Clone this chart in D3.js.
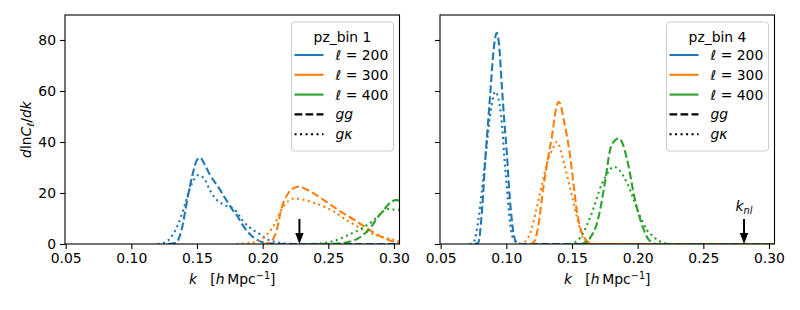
<!DOCTYPE html>
<html>
<head>
<meta charset="utf-8">
<script src="https://cdn.jsdelivr.net/npm/d3@7"></script>
<style>
  body { margin: 0; background: #fff; }
  svg { font-family: "DejaVu Sans", sans-serif; }
</style>
</head>
<body>
<svg id="chart" width="800" height="310"></svg>
<script>
// ticks, labels, categories
const kTicks = [0.05, 0.10, 0.15, 0.20, 0.25, 0.30];
const yTicks = [0, 20, 40, 60, 80];
const ells = [200, 300, 400];
const colors = ["#1f77b4", "#ff7f0e", "#2ca02c"];
const panelTitles = ["pz_bin 1", "pz_bin 4"];
const kNl = [0.228, 0.281];

// pz_bin 1 : [k, dlnC/dk]
const bin1_l200_gg = [[0.128,0],[0.134,0.5],[0.138,5],[0.143,18.5],[0.147,28],[0.150,33],[0.1525,33.8],[0.156,31],[0.160,27],[0.166,22.5],[0.172,17.5],[0.177,13.5],[0.181,10.7],[0.186,6.5],[0.190,4],[0.194,2.2],[0.200,0.7],[0.208,0.1],[0.215,0],[0.305,0]];
const bin1_l200_gk = [[0.120,0],[0.125,0.5],[0.130,2.5],[0.135,7],[0.140,14],[0.144,21],[0.148,25.5],[0.151,27],[0.155,26],[0.160,21],[0.163,18.5],[0.170,15.5],[0.179,13.3],[0.185,9],[0.190,6.5],[0.197,4.2],[0.203,2],[0.210,0.8],[0.218,0.2],[0.225,0],[0.305,0]];
const bin1_l300_gg = [[0.200,0],[0.204,0.3],[0.208,2],[0.211,6],[0.214,13.3],[0.2195,19.9],[0.224,22],[0.228,22.5],[0.233,21.5],[0.240,19.5],[0.250,16],[0.260,12.5],[0.270,9.4],[0.280,6],[0.288,3.5],[0.295,1.8],[0.300,0.9],[0.305,0.4]];
const bin1_l300_gk = [[0.180,0],[0.188,0.3],[0.196,1],[0.202,3],[0.208,6.8],[0.2157,14.6],[0.220,17],[0.2245,17.9],[0.230,17.5],[0.240,16],[0.247,14.6],[0.255,12.5],[0.262,10],[0.270,7.5],[0.280,4.8],[0.288,3.2],[0.295,2.2],[0.305,1]];
const bin1_l400_gg = [[0.245,0],[0.255,0.1],[0.265,0.8],[0.272,2],[0.278,4.2],[0.283,7],[0.288,10.7],[0.293,13.8],[0.298,16.6],[0.302,17.2],[0.305,17.0]];
const bin1_l400_gk = [[0.235,0],[0.245,0.3],[0.255,1.3],[0.265,3.5],[0.275,6],[0.283,8.7],[0.288,11],[0.293,13.3],[0.297,13.8],[0.300,13.5],[0.305,13.4]];

// pz_bin 4
const bin4_l200_gg = [[0.076,0],[0.0787,0.5],[0.081,10],[0.0838,31.6],[0.0876,57.8],[0.0905,77],[0.0927,82.8],[0.0945,78],[0.0966,61.7],[0.0985,48],[0.1004,35.6],[0.1022,21],[0.1042,9.4],[0.1055,4],[0.1067,1.6],[0.109,0.2],[0.112,0],[0.305,0]];
const bin4_l200_gk = [[0.072,0],[0.0749,0.5],[0.077,4],[0.080,14.6],[0.0835,31],[0.0863,44.7],[0.089,55],[0.0915,59.7],[0.094,57],[0.0966,47.3],[0.0985,34],[0.1004,22.5],[0.1022,11.5],[0.104,4.2],[0.106,1.5],[0.109,0.3],[0.113,0],[0.305,0]];
const bin4_l300_gg = [[0.118,0],[0.1207,0.5],[0.124,6],[0.1283,22.5],[0.1315,33],[0.1347,42],[0.1375,52],[0.1398,55.8],[0.141,55],[0.144,48],[0.1487,34],[0.1515,22],[0.154,12],[0.1565,6],[0.159,2.9],[0.163,0.5],[0.167,0],[0.305,0]];
const bin4_l300_gk = [[0.110,0],[0.113,0.5],[0.118,4],[0.1233,14.6],[0.127,23],[0.131,31.6],[0.135,37],[0.1385,40],[0.140,39],[0.142,35.5],[0.149,21],[0.155,8.1],[0.159,1.6],[0.163,0.3],[0.167,0],[0.305,0]];
const bin4_l400_gg = [[0.156,0],[0.159,0.3],[0.164,2.5],[0.169,8.1],[0.1754,25],[0.179,36.9],[0.1825,40.5],[0.1856,41.4],[0.188,40],[0.192,33],[0.198,17.3],[0.2047,5.5],[0.208,2],[0.211,0.6],[0.215,0],[0.305,0]];
const bin4_l400_gk = [[0.148,0],[0.151,0.3],[0.157,3],[0.164,10.7],[0.173,23.8],[0.178,28.5],[0.1818,30.3],[0.186,29],[0.192,23.8],[0.202,10.7],[0.207,5.5],[0.212,2.9],[0.217,1],[0.222,0.2],[0.226,0],[0.305,0]];

const panels = [
  { title: panelTitles[0], knl: kNl[0], label: false,
    curves: [[bin1_l200_gg, bin1_l200_gk], [bin1_l300_gg, bin1_l300_gk], [bin1_l400_gg, bin1_l400_gk]] },
  { title: panelTitles[1], knl: kNl[1], label: true,
    curves: [[bin4_l200_gg, bin4_l200_gk], [bin4_l300_gg, bin4_l300_gk], [bin4_l400_gg, bin4_l400_gk]] }
];

const svg = d3.select("#chart");
const fs = 13.9;
const yTop = 15, yBottom = 244;
const lefts = [65, 440], width = 334.5;
const dashed = "7.7,3.3", dotted = "2.1,3.4";

const y = d3.scaleLinear().domain([0, 89.8]).range([yBottom, yTop]);

panels.forEach((p, i) => {
  const x0 = lefts[i];
  const x = d3.scaleLinear().domain([0.0495, 0.3042]).range([x0, x0 + width]);
  const g = svg.append("g");

  const clipId = "clip" + i;
  svg.append("clipPath").attr("id", clipId)
    .append("rect").attr("x", x0).attr("y", yTop).attr("width", width).attr("height", yBottom - yTop);

  // curves
  const line = d3.line().x(d => x(d[0])).y(d => y(d[1])).curve(d3.curveMonotoneX);
  const cg = g.append("g").attr("clip-path", `url(#${clipId})`);
  p.curves.forEach((pair, j) => {
    pair.forEach((data, m) => {
      cg.append("path")
        .attr("d", line(data))
        .attr("fill", "none")
        .attr("stroke", colors[j])
        .attr("stroke-width", 2.1)
        .attr("stroke-dasharray", m === 0 ? dashed : dotted);
    });
  });

  // arrow at k_nl
  const ax = x(p.knl);
  g.append("line")
    .attr("x1", ax).attr("x2", ax)
    .attr("y1", yBottom - 25).attr("y2", yBottom - 10)
    .attr("stroke", "#000").attr("stroke-width", 2);
  g.append("path")
    .attr("d", `M${ax - 4.2},${yBottom - 11}L${ax + 4.2},${yBottom - 11}L${ax},${yBottom}Z`)
    .attr("fill", "#000");
  if (p.label) {
    const t = g.append("text").attr("x", ax).attr("y", yBottom - 33)
      .attr("text-anchor", "middle").attr("font-size", fs);
    t.append("tspan").attr("font-style", "italic").text("k");
    t.append("tspan").attr("font-style", "italic").attr("font-size", fs * 0.7).attr("dy", 3).text("nl");
  }

  // axes
  const xAxis = g.append("g").attr("transform", `translate(0,${yBottom})`)
    .call(d3.axisBottom(x).tickValues(kTicks).tickFormat(d3.format(".2f")).tickSize(5).tickPadding(4).tickSizeOuter(0));
  const yAxis = g.append("g").attr("transform", `translate(${x0},0)`)
    .call(d3.axisLeft(y).tickValues(yTicks).tickSize(5).tickPadding(4).tickSizeOuter(0));
  if (i > 0) yAxis.selectAll("text").remove();
  [xAxis, yAxis].forEach(a => {
    a.select(".domain").remove();
    a.selectAll("text").attr("font-size", fs).attr("font-family", "DejaVu Sans").attr("fill", "#000");
    a.selectAll("line").attr("stroke", "#000").attr("stroke-width", 1.1);
  });
  g.append("rect").attr("x", x0).attr("y", yTop).attr("width", width).attr("height", yBottom - yTop)
    .attr("fill", "none").attr("stroke", "#000").attr("stroke-width", 1.1);

  // x label
  const cx = x0 + width / 2;
  const xl = g.append("text").attr("x", cx).attr("y", 284).attr("text-anchor", "middle")
    .attr("font-size", fs).attr("xml:space", "preserve");
  xl.append("tspan").attr("font-style", "italic").text("k");
  xl.append("tspan").text("   [");
  xl.append("tspan").attr("font-style", "italic").text("h");
  xl.append("tspan").text("\u2009Mpc");
  xl.append("tspan").attr("font-size", fs * 0.7).attr("dy", -5).text("\u22121");
  xl.append("tspan").attr("dy", 5).text("]");

  // legend
  const lw = 102, lh = 129;
  const lx = x0 + width - 6 - lw, ly = 22;
  const lg = g.append("g");
  lg.append("rect").attr("x", lx).attr("y", ly).attr("width", lw).attr("height", lh)
    .attr("rx", 3).attr("fill", "#fff").attr("fill-opacity", 0.8)
    .attr("stroke", "#cccccc").attr("stroke-width", 1);
  lg.append("text").attr("x", lx + lw / 2).attr("y", ly + 20).attr("text-anchor", "middle")
    .attr("font-size", fs).text(p.title);
  const entries = ells.map((l, j) => ({ color: colors[j], dash: null, ell: l }))
    .concat([{ color: "#000", dash: dashed, txt: "gg" }, { color: "#000", dash: dotted, txt: "g\u03ba" }]);
  entries.forEach((e, j) => {
    const by = ly + 38 + j * 19.8;
    lg.append("line").attr("x1", lx + 3).attr("x2", lx + 32).attr("y1", by - 5).attr("y2", by - 5)
      .attr("stroke", e.color).attr("stroke-width", 2.1)
      .attr("stroke-dasharray", e.dash);
    const t = lg.append("text").attr("x", lx + 44).attr("y", by).attr("font-size", fs);
    if (e.ell) {
      t.append("tspan").attr("font-style", "italic").text("\u2113");
      t.append("tspan").text(" = " + e.ell);
    } else {
      t.attr("font-style", "italic").text(e.txt);
    }
  });
});

// y label
const yl = svg.append("text").attr("transform", `translate(31,${(yTop + yBottom) / 2}) rotate(-90)`)
  .attr("text-anchor", "middle").attr("font-size", fs);
yl.append("tspan").attr("font-style", "italic").text("d");
yl.append("tspan").text("ln");
yl.append("tspan").attr("font-style", "italic").text("C");
yl.append("tspan").attr("font-style", "italic").attr("font-size", fs * 0.7).attr("dy", 3).text("\u2113");
yl.append("tspan").attr("dy", -3).text("/");
yl.append("tspan").attr("font-style", "italic").text("dk");
</script>
</body>
</html>
